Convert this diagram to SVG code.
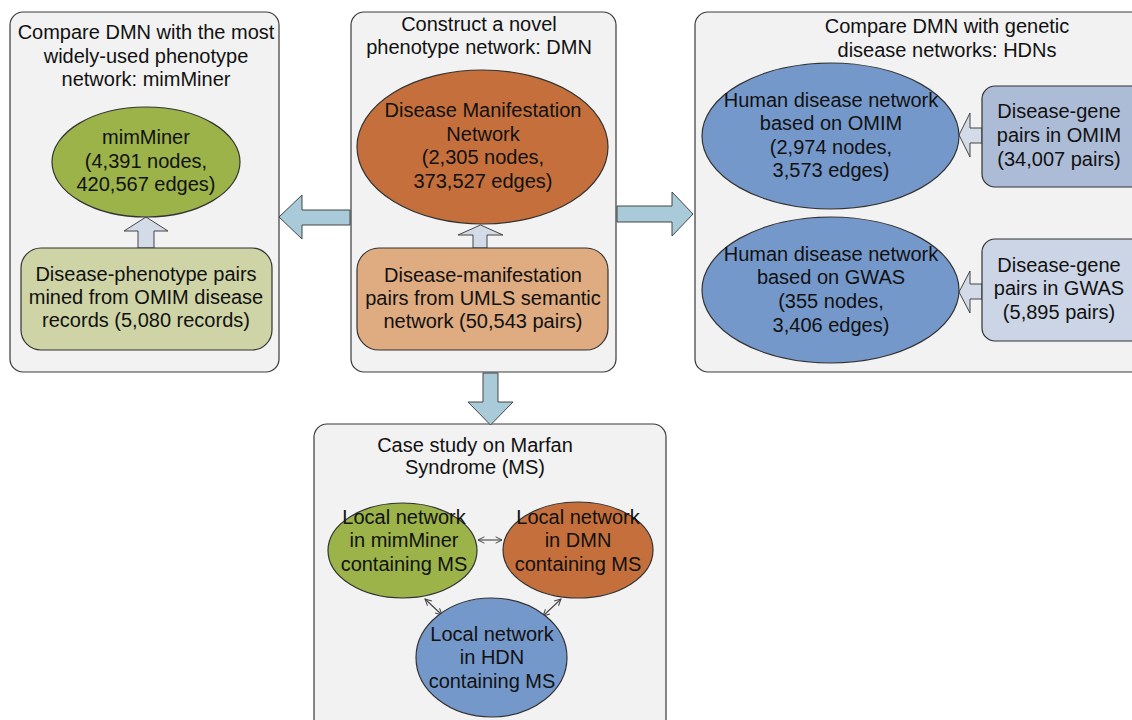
<svg xmlns="http://www.w3.org/2000/svg" width="1132" height="720" viewBox="0 0 1132 720">
<defs>
<style>
text{font-family:"Liberation Sans",Arial,sans-serif;font-size:20px;fill:#111;text-anchor:middle}
.panel{fill:#f2f2f2;stroke:#3a3a3a;stroke-width:1.2}
.node{stroke:#333;stroke-width:1.2}
.big{fill:#a9cad8;stroke:#444;stroke-width:1}
.small{fill:#d3dbe8;stroke:#444;stroke-width:1}
.link{stroke:#444;stroke-width:1.1;fill:none;marker-start:url(#v);marker-end:url(#v)}
</style>
<marker id="v" viewBox="0 0 10 10" refX="9" refY="5" markerWidth="8" markerHeight="8" orient="auto-start-reverse" markerUnits="userSpaceOnUse">
<path d="M1,1 L9,5 L1,9" fill="none" stroke="#444" stroke-width="1.2"/>
</marker>
</defs>
<rect width="1132" height="720" fill="#fff"/>

<g id="panel-left">
<rect class="panel" x="10" y="12" width="269" height="360" rx="13"/>
<text x="146" y="39">Compare DMN with the most</text>
<text x="146" y="63">widely-used phenotype</text>
<text x="146" y="86">network: mimMiner</text>
</g>
<g id="panel-middle">
<rect class="panel" x="351" y="12" width="265" height="360" rx="13"/>
<text x="479" y="31">Construct a novel</text>
<text x="479" y="54">phenotype network: DMN</text>
</g>
<g id="panel-right">
<rect class="panel" x="695" y="12" width="460" height="360" rx="13"/>
<text x="947" y="33">Compare DMN with genetic</text>
<text x="947" y="57">disease networks: HDNs</text>
</g>
<g id="panel-bottom">
<rect class="panel" x="314" y="424" width="352" height="310" rx="13"/>
<text x="475" y="452">Case study on Marfan</text>
<text x="475" y="474">Syndrome (MS)</text>
</g>

<g id="connectors">
<polygon class="big" points="279,217 302,195 302,210 350,210 350,225 302,225 302,239"/>
<polygon class="big" points="617,206 672,206 672,192 693,214 672,236 672,222 617,222"/>
<polygon class="big" points="483,373 498,373 498,402 513,402 490.5,425 468,402 483,402"/>
<polygon class="small" points="146,217 168,231 154,231 154,248 138,248 138,231 124,231"/>
<polygon class="small" points="480.5,225 503,235 487,235 487,248 473,248 473,235 458,235"/>
<polygon class="small" points="959,135 970,113 970,128 982,128 982,143 970,143 970,157"/>
<polygon class="small" points="959,292 970,271 970,284 982,284 982,299 970,299 970,313"/>
<line class="link" x1="478" y1="540" x2="502" y2="540"/>
<line class="link" x1="425" y1="599" x2="442" y2="615"/>
<line class="link" x1="561" y1="599" x2="543" y2="616"/>
</g>

<g id="mimminer">
<ellipse class="node" cx="146" cy="162" rx="94" ry="55" fill="#9cb349"/>
<text x="146" y="144">mimMiner</text>
<text x="146" y="168">(4,391 nodes,</text>
<text x="146" y="191">420,567 edges)</text>
</g>
<g id="omim-records">
<rect class="node" x="21" y="248" width="251" height="102" rx="20" fill="#cfd4a6"/>
<text x="146" y="281">Disease-phenotype pairs</text>
<text x="146" y="304">mined from OMIM disease</text>
<text x="146" y="327">records (5,080 records)</text>
</g>
<g id="dmn">
<ellipse class="node" cx="482.5" cy="147" rx="125.5" ry="77" fill="#c5703c"/>
<text x="483" y="117">Disease Manifestation</text>
<text x="483" y="141">Network</text>
<text x="483" y="164">(2,305 nodes,</text>
<text x="483" y="188">373,527 edges)</text>
</g>
<g id="umls-pairs">
<rect class="node" x="357" y="248" width="251" height="102" rx="22" fill="#dfab80"/>
<text x="483" y="282">Disease-manifestation</text>
<text x="483" y="305">pairs from UMLS semantic</text>
<text x="483" y="328">network (50,543 pairs)</text>
</g>
<g id="hdn-omim">
<ellipse class="node" cx="830.5" cy="136" rx="128.5" ry="73" fill="#7598cb"/>
<text x="831" y="107">Human disease network</text>
<text x="831" y="130">based on OMIM</text>
<text x="831" y="154">(2,974 nodes,</text>
<text x="831" y="177">3,573 edges)</text>
</g>
<g id="omim-pairs">
<rect class="node" x="982" y="86" width="170" height="101" rx="13" fill="#adbcd6"/>
<text x="1059" y="118">Disease-gene</text>
<text x="1059" y="142">pairs in OMIM</text>
<text x="1059" y="166">(34,007 pairs)</text>
</g>
<g id="hdn-gwas">
<ellipse class="node" cx="830.5" cy="290" rx="128.5" ry="73" fill="#7598cb"/>
<text x="831" y="261">Human disease network</text>
<text x="831" y="284">based on GWAS</text>
<text x="831" y="308">(355 nodes,</text>
<text x="831" y="332">3,406 edges)</text>
</g>
<g id="gwas-pairs">
<rect class="node" x="982" y="239" width="170" height="102" rx="13" fill="#ccd5e5"/>
<text x="1059" y="272">Disease-gene</text>
<text x="1059" y="295">pairs in GWAS</text>
<text x="1059" y="319">(5,895 pairs)</text>
</g>
<g id="local-mimminer">
<ellipse class="node" cx="402.5" cy="550.5" rx="74.5" ry="47.5" fill="#9cb349"/>
<text x="404" y="524">Local network</text>
<text x="404" y="547">in mimMiner</text>
<text x="404" y="571">containing MS</text>
</g>
<g id="local-dmn">
<ellipse class="node" cx="578" cy="550" rx="75" ry="48" fill="#c5703c"/>
<text x="578" y="524">Local network</text>
<text x="578" y="547">in DMN</text>
<text x="578" y="571">containing MS</text>
</g>
<g id="local-hdn">
<ellipse class="node" cx="491.5" cy="657.5" rx="75.5" ry="59.5" fill="#7598cb"/>
<text x="492" y="641">Local network</text>
<text x="492" y="664">in HDN</text>
<text x="492" y="688">containing MS</text>
</g>
</svg>
